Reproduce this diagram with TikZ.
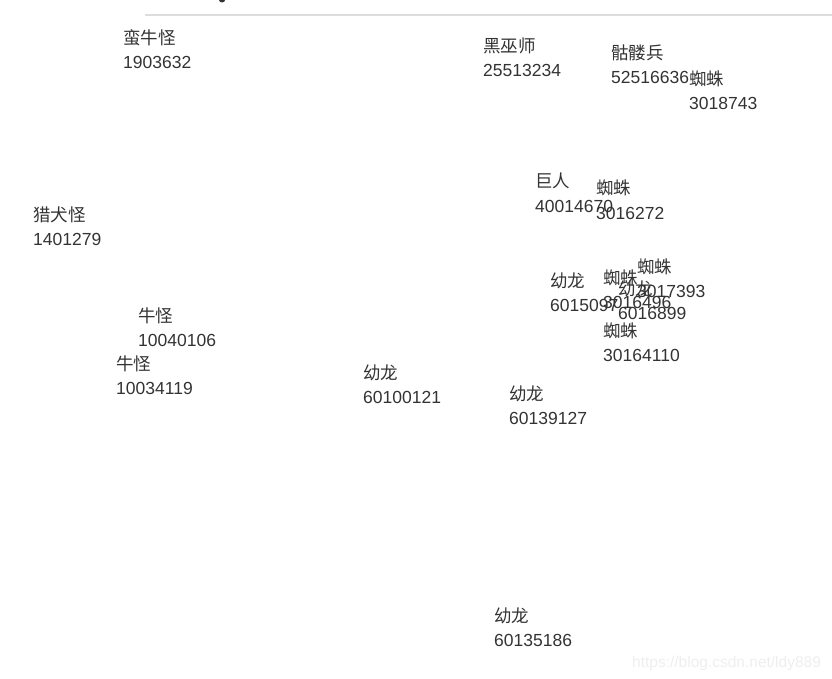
\documentclass[tikz,border=0pt]{standalone}
\usepackage{fontspec}
\setmainfont{Liberation Sans}
\newfontfamily\cjk{Noto Sans CJK SC}
\definecolor{txt}{HTML}{333333}
\definecolor{rule}{HTML}{DDDDDD}
\definecolor{wm}{HTML}{EEEEEE}
\newcommand\monster[5]{%
  \node[lbl] (#1n) at (#2,#3) {\cjk #4};
  \node[lbl] (#1v) at (#2,#3+24) {#5};
}
\begin{document}
\begin{tikzpicture}[x=1pt,y=-1pt,
  lbl/.style={anchor=base west,inner sep=0pt,text=txt,font=\fontsize{17.5}{20}\selectfont}]
\useasboundingbox (0,0) rectangle (832,679);
\begin{scope}
\clip (0,0) rectangle (832,679);
\fill[txt] (222,0) ellipse (3 and 2.5);
\end{scope}
\draw[rule,line width=2pt] (145,15) -- (832,15);
\monster{a}{123}{45}{蛮牛怪}{1903632}
\monster{b}{483}{53}{黑巫师}{25513234}
\monster{c}{611}{60}{骷髅兵}{52516636}
\monster{d}{689}{86}{蜘蛛}{3018743}
\monster{e}{535}{188}{巨人}{40014670}
\monster{f}{596}{195}{蜘蛛}{3016272}
\monster{g}{33}{221}{猎犬怪}{1401279}
\monster{h}{138}{322}{牛怪}{10040106}
\monster{i}{116}{370}{牛怪}{10034119}
\monster{j}{363}{379}{幼龙}{60100121}
\monster{k}{509}{400}{幼龙}{60139127}
\monster{l}{494}{622}{幼龙}{60135186}
\monster{m}{550}{287}{幼龙}{6015097}
\monster{n}{603}{284}{蜘蛛}{3016496}
\monster{o}{637}{273}{蜘蛛}{3017393}
\monster{p}{618}{295}{幼龙}{6016899}
\monster{q}{603}{337}{蜘蛛}{30164110}
\node[anchor=base west,inner sep=0pt,text=wm,font=\fontsize{15.5}{18}\selectfont] (w) at (632,667) {https://blog.csdn.net/ldy889};
\end{tikzpicture}
\end{document}
